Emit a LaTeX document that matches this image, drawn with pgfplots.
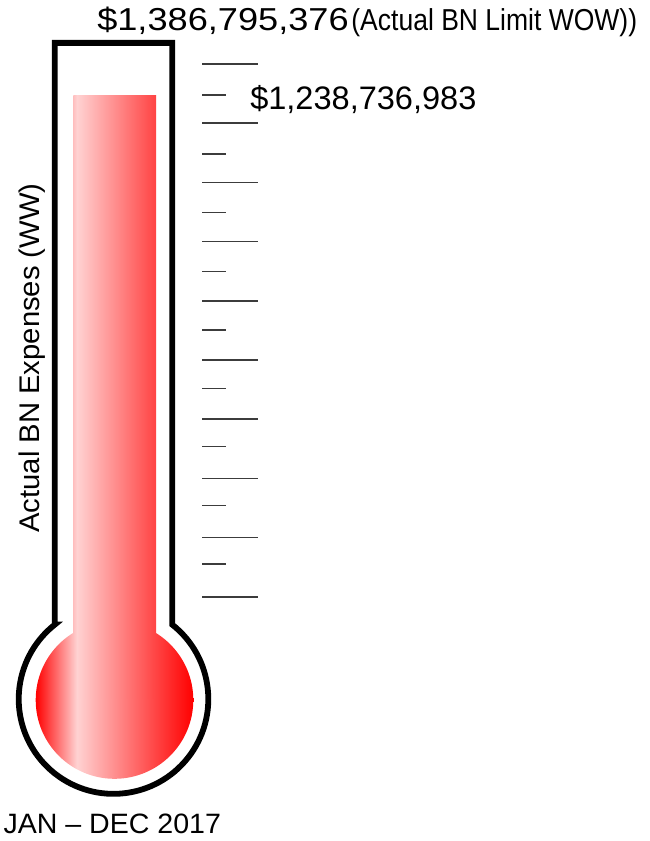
\documentclass[border=0pt]{standalone}
\usepackage{pgfplots}
\pgfplotsset{compat=1.18}
\usepackage{fontspec}
\setmainfont{Liberation Sans}
\definecolor{pinkc}{RGB}{255,210,210}
\definecolor{barL}{RGB}{255,191,191}
\definecolor{barR}{RGB}{255,67,67}
\definecolor{tickc}{RGB}{60,60,60}
\pgfdeclarehorizontalshading{bulbshade}{100bp}{color(0bp)=(red); color(25bp)=(red); color(38.1bp)=(pinkc); color(75bp)=(red); color(100bp)=(red)}
\pgfdeclarehorizontalshading{barshade}{100bp}{color(0bp)=(barL); color(25bp)=(barL); color(27.2bp)=(pinkc); color(75bp)=(barR); color(100bp)=(barR)}
\pgfplotsset{thermo/.style={width=486.75pt,height=630.75pt,scale only axis,hide axis,clip=false,xmin=0,xmax=649,at={(0,0)},anchor=south west}}
\begin{document}
\begin{tikzpicture}
\begin{axis}[thermo, ymin=0, ymax=841, y dir=reverse]
 \path (axis cs:0,0) rectangle (axis cs:649,841);
 \shade[shading=bulbshade] (axis cs:114.5,700) circle[radius=59.1pt];
 \draw[line width=4.35pt, line join=miter] (axis cs:54.8,624.6) -- (axis cs:54.8,42.9) -- (axis cs:172.2,42.9) -- (axis cs:172.2,624.6) arc[start angle=51.75,end angle=-231.75,radius=71.1pt] -- cycle;
 \pgfplotsinvokeforeach{64,123.2,182.4,241.6,300.8,360,419.2,478.4,537.6,596.8}{\draw[tickc, line width=1.1pt] (axis cs:202,#1) -- (axis cs:257.7,#1);}
 \pgfplotsinvokeforeach{95,154,212.7,271.7,330,388.7,446.7,505.3,564}{\draw[tickc, line width=1.1pt] (axis cs:202,#1) -- (axis cs:225.7,#1);}
 \node[rotate=90, anchor=base west, inner sep=0pt, font=\fontsize{21.3pt}{24pt}\selectfont] at (axis cs:39.3,533) {\scalebox{1.03}[1]{Actual BN Expenses (WW)}};
 \node[anchor=base west, inner sep=0pt, font=\fontsize{21pt}{24pt}\selectfont] at (axis cs:3.3,833.3) {\scalebox{1.02}[1]{JAN – DEC 2017}};
\end{axis}
\begin{axis}[thermo, ymin=-291709207, ymax=1435948843]
 \addplot[ybar, bar width=82.7, draw=none, shade, shading=barshade] coordinates {(114.65,1238736983)};
 \node[anchor=base west, inner sep=0pt, yshift=-10.5pt, font=\fontsize{24.4pt}{28pt}\selectfont] at (axis cs:250,1238736983) {\$1,238,736,983};
 \node[anchor=base west, inner sep=0pt, yshift=-5.1pt] at (axis cs:97,1386795376) {\fontsize{23.8pt}{28pt}\selectfont\scalebox{1.14}[1]{\$1,386,795,376}\hspace{2pt}\fontsize{22.7pt}{28pt}\selectfont\scalebox{0.876}[1]{(Actual BN Limit WOW))}};
\end{axis}
\end{tikzpicture}
\end{document}
